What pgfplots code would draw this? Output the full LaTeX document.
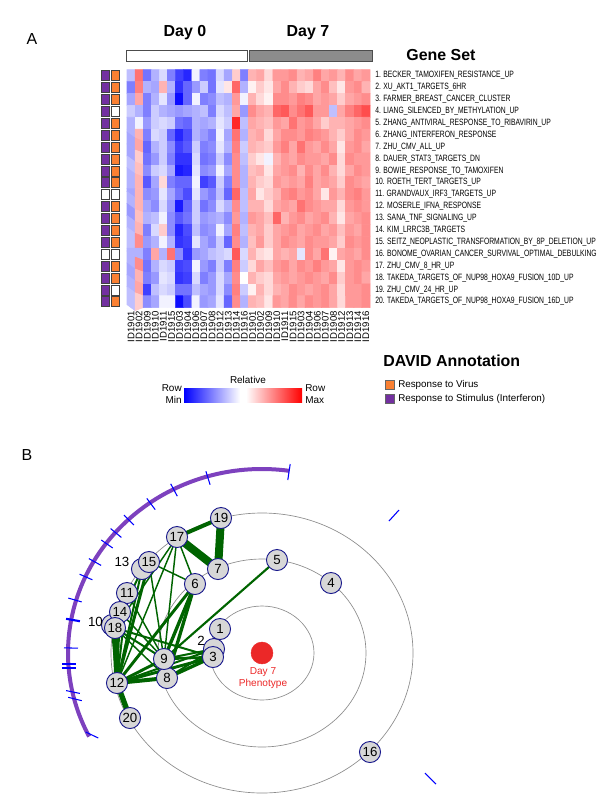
\documentclass[border=0pt]{standalone}
\usepackage{fontspec}
\setmainfont{Liberation Sans}
\newfontfamily\narrow[FakeStretch=0.74]{Liberation Sans}
\usepackage{pgfplots}
\pgfplotsset{compat=1.18}
\definecolor{purp}{RGB}{115,48,160}
\definecolor{orng}{RGB}{250,128,50}
\definecolor{arcpurp}{RGB}{125,65,190}
\definecolor{edge}{RGB}{0,100,0}
\definecolor{nodefill}{RGB}{215,215,215}
\definecolor{nodeline}{RGB}{25,25,140}
\definecolor{phen}{RGB}{235,40,40}
\newcommand\fs[1]{\fontsize{#1}{#1}\selectfont}
\begin{document}
\begin{tikzpicture}
\begin{axis}[
  x=0.75bp, y=0.75bp, y dir=reverse,
  xmin=0, xmax=600, ymin=0, ymax=796,
  hide axis, clip=false,
  colormap={bwr}{rgb255=(0,0,255) rgb255=(255,255,255) rgb255=(255,0,0)},
  point meta min=-1, point meta max=1,
]
\path (axis cs:0,0) coordinate (o) rectangle (axis cs:600,796);

% heatmap: 20 gene sets x 30 samples (Day 0 | Day 7), relative row values
\addplot[matrix plot*, mesh/cols=30, point meta=explicit]
  table[row sep=\\, x expr={131.05+8.1*mod(\coordindex,30)}, y expr={75.6+11.9*floor(\coordindex/30)}, meta=v] {
v\\
-0.25\\ 0.55\\ -0.55\\ -0.3\\ -0.15\\ -0.5\\ -0.75\\ -0.85\\ -0.05\\ -0.5\\ -0.55\\ -0.15\\ -0.35\\ 0.2\\ -0.5\\ 0.3\\ 0.35\\ 0.15\\ 0.4\\ 0.4\\ 0.45\\ 0.3\\ 0.35\\ 0.5\\ 0.35\\ 0.4\\ 0.3\\ 0.45\\ 0.35\\ 0.4\\
-0.5\\ 0.5\\ -0.3\\ -0.35\\ 0.3\\ -0.3\\ -0.8\\ -0.6\\ -0.4\\ -0.2\\ -0.55\\ -0.1\\ 0.1\\ 0.6\\ -0.3\\ 0.05\\ 0.2\\ 0.1\\ 0.35\\ 0.45\\ 0.3\\ 0.2\\ 0.15\\ 0.35\\ 0.45\\ 0.25\\ 0.1\\ 0.4\\ 0.45\\ 0.3\\
-0.35\\ 0.35\\ -0.5\\ -0.3\\ -0.1\\ -0.4\\ -0.95\\ -0.6\\ -0.05\\ -0.5\\ -0.45\\ -0.25\\ -0.3\\ 0.4\\ -0.05\\ 0.3\\ 0.15\\ 0.05\\ 0.45\\ 0.45\\ 0.4\\ 0.5\\ 0.45\\ 0.35\\ 0.4\\ 0.35\\ 0.2\\ 0.35\\ 0.4\\ 0.45\\
-0.2\\ -0.3\\ -0.5\\ -0.2\\ -0.3\\ -0.35\\ -0.4\\ -0.35\\ -0.3\\ -0.25\\ -0.5\\ -0.15\\ -0.25\\ 0.35\\ -0.4\\ 0.45\\ 0.35\\ 0.3\\ 0.6\\ 0.65\\ 0.45\\ 0.55\\ 0.65\\ 0.4\\ 0.4\\ -0.25\\ 0.35\\ 0.5\\ 0.6\\ 0.7\\
-0.3\\ -0.05\\ -0.4\\ -0.2\\ -0.15\\ -0.2\\ -0.55\\ -0.6\\ -0.3\\ -0.35\\ -0.3\\ -0.1\\ -0.2\\ 0.85\\ -0.25\\ 0.35\\ 0.3\\ 0.25\\ 0.4\\ 0.35\\ 0.55\\ 0.4\\ 0.45\\ 0.35\\ 0.2\\ 0.3\\ 0.3\\ 0.35\\ 0.4\\ 0.45\\
-0.3\\ 0.3\\ -0.5\\ -0.15\\ -0.2\\ -0.6\\ -0.85\\ -0.7\\ -0.3\\ -0.4\\ -0.5\\ -0.05\\ -0.35\\ 0.55\\ -0.3\\ 0.3\\ 0.35\\ 0.15\\ 0.35\\ 0.45\\ 0.45\\ 0.4\\ 0.5\\ 0.45\\ 0.4\\ 0.3\\ 0.2\\ 0.35\\ 0.45\\ 0.4\\
-0.35\\ 0.35\\ -0.6\\ -0.3\\ -0.2\\ -0.45\\ -0.75\\ -0.65\\ -0.2\\ -0.5\\ -0.45\\ -0.1\\ -0.3\\ 0.5\\ -0.2\\ 0.3\\ 0.25\\ 0.2\\ 0.4\\ 0.5\\ 0.35\\ 0.55\\ 0.4\\ 0.35\\ 0.45\\ 0.35\\ 0.1\\ 0.4\\ 0.45\\ 0.35\\
-0.35\\ 0.2\\ -0.55\\ -0.4\\ -0.2\\ -0.5\\ -0.8\\ -0.8\\ -0.15\\ -0.55\\ -0.5\\ -0.2\\ -0.45\\ 0.45\\ -0.25\\ 0.2\\ 0.1\\ -0.05\\ 0.3\\ 0.4\\ 0.35\\ 0.45\\ 0.4\\ 0.4\\ 0.35\\ 0.45\\ 0.15\\ 0.45\\ 0.4\\ 0.4\\
-0.25\\ 0.25\\ -0.45\\ -0.2\\ -0.15\\ -0.35\\ -0.9\\ -0.85\\ -0.1\\ -0.45\\ -0.4\\ -0.05\\ -0.35\\ 0.45\\ -0.3\\ 0.25\\ 0.3\\ 0.1\\ 0.35\\ 0.4\\ 0.45\\ 0.3\\ 0.45\\ 0.35\\ 0.45\\ 0.3\\ 0.15\\ 0.35\\ 0.45\\ 0.4\\
-0.3\\ 0.3\\ -0.65\\ -0.35\\ 0.15\\ -0.5\\ -0.6\\ -0.6\\ -0.05\\ -0.75\\ -0.65\\ -0.2\\ -0.5\\ 0.45\\ -0.3\\ 0.3\\ 0.2\\ 0.15\\ 0.4\\ 0.35\\ 0.4\\ 0.35\\ 0.5\\ 0.35\\ 0.4\\ 0.35\\ 0.2\\ 0.45\\ 0.4\\ 0.35\\
-0.35\\ 0.3\\ -0.45\\ -0.4\\ -0.1\\ -0.35\\ -0.55\\ -0.7\\ -0.1\\ -0.4\\ -0.5\\ -0.25\\ -0.6\\ 0.6\\ -0.25\\ 0.35\\ 0.1\\ 0.2\\ 0.3\\ 0.45\\ 0.5\\ 0.4\\ 0.45\\ 0.35\\ 0.1\\ 0.4\\ 0.3\\ 0.45\\ 0.5\\ 0.4\\
-0.3\\ 0.3\\ -0.35\\ -0.45\\ -0.15\\ -0.4\\ -0.9\\ -0.6\\ -0.2\\ -0.55\\ -0.45\\ -0.15\\ -0.3\\ 0.45\\ -0.25\\ 0.3\\ 0.3\\ 0.15\\ 0.35\\ 0.4\\ 0.35\\ 0.55\\ 0.45\\ 0.4\\ 0.35\\ 0.35\\ 0.15\\ 0.4\\ 0.45\\ 0.4\\
-0.4\\ 0.25\\ -0.3\\ -0.25\\ -0.05\\ -0.45\\ -0.65\\ -0.55\\ -0.2\\ -0.4\\ -0.35\\ -0.3\\ -0.45\\ 0.4\\ -0.3\\ 0.4\\ 0.35\\ 0.25\\ 0.6\\ 0.3\\ 0.4\\ 0.45\\ 0.35\\ 0.4\\ 0.45\\ 0.3\\ 0.1\\ 0.35\\ 0.4\\ 0.45\\
-0.3\\ 0.3\\ -0.5\\ -0.15\\ 0.2\\ -0.45\\ -0.85\\ -0.7\\ -0.25\\ -0.45\\ -0.4\\ -0.05\\ -0.35\\ 0.5\\ -0.25\\ 0.3\\ 0.35\\ 0.2\\ 0.35\\ 0.4\\ 0.45\\ 0.35\\ 0.4\\ 0.45\\ 0.35\\ 0.4\\ 0.25\\ 0.4\\ 0.35\\ 0.45\\
-0.25\\ 0.45\\ -0.4\\ -0.3\\ -0.05\\ -0.3\\ -0.8\\ -0.75\\ -0.1\\ -0.35\\ -0.45\\ -0.2\\ -0.6\\ 0.45\\ -0.3\\ 0.25\\ 0.4\\ 0.2\\ 0.35\\ 0.45\\ 0.4\\ 0.35\\ 0.45\\ 0.4\\ 0.4\\ 0.35\\ 0.2\\ 0.45\\ 0.4\\ 0.45\\
-0.3\\ -0.3\\ -0.5\\ 0.35\\ -0.3\\ 0.55\\ -0.45\\ -0.8\\ -0.4\\ -0.35\\ -0.25\\ -0.2\\ -0.15\\ 0.65\\ -0.15\\ 0.3\\ 0.15\\ 0.1\\ 0.35\\ 0.3\\ 0.35\\ -0.1\\ 0.45\\ 0.35\\ 0.55\\ 0.05\\ 0.35\\ 0.4\\ 0.35\\ 0.45\\
-0.3\\ 0.45\\ -0.55\\ -0.3\\ -0.15\\ -0.2\\ -0.75\\ -0.7\\ -0.05\\ -0.4\\ -0.5\\ -0.2\\ -0.5\\ 0.5\\ -0.2\\ 0.15\\ 0.35\\ 0.25\\ 0.4\\ 0.45\\ 0.35\\ 0.45\\ 0.4\\ 0.5\\ 0.4\\ 0.35\\ 0.1\\ 0.4\\ 0.45\\ 0.4\\
-0.35\\ 0.3\\ -0.5\\ -0.4\\ -0.1\\ -0.15\\ -0.8\\ -0.75\\ -0.15\\ -0.5\\ -0.4\\ -0.15\\ -0.35\\ 0.45\\ 0.0\\ 0.3\\ 0.2\\ 0.15\\ 0.35\\ 0.4\\ 0.35\\ 0.4\\ 0.45\\ 0.4\\ 0.35\\ 0.45\\ 0.2\\ 0.4\\ 0.45\\ 0.35\\
-0.3\\ 0.35\\ -0.75\\ -0.25\\ -0.15\\ -0.2\\ -0.55\\ -0.55\\ -0.25\\ -0.35\\ -0.4\\ -0.15\\ -0.45\\ 0.5\\ -0.2\\ 0.05\\ 0.3\\ 0.15\\ 0.3\\ 0.35\\ 0.45\\ 0.4\\ 0.35\\ 0.4\\ 0.45\\ 0.35\\ 0.15\\ 0.4\\ 0.4\\ 0.45\\
-0.25\\ 0.2\\ -0.45\\ -0.35\\ -0.05\\ -0.05\\ -0.95\\ -0.7\\ -0.05\\ -0.4\\ -0.35\\ -0.1\\ -0.6\\ 0.45\\ -0.3\\ 0.3\\ 0.25\\ 0.1\\ 0.4\\ 0.35\\ 0.45\\ 0.35\\ 0.45\\ 0.4\\ 0.45\\ 0.35\\ 0.15\\ 0.4\\ 0.4\\ 0.45\\
};

% DAVID annotation columns
\addplot[only marks, mark=square*, mark size=3.75bp, mark options={xscale=0.8, fill=purp, draw=black!75, line width=0.4bp}]
  coordinates {(105,75.6)(105,87.5)(105,99.4)(105,111.3)(105,123.2)(105,135.1)(105,147.0)(105,158.9)(105,170.8)(105,182.7)
  (105,206.5)(105,218.4)(105,230.3)(105,242.2)(105,266.0)(105,277.9)(105,289.8)(105,301.7)};
\addplot[only marks, mark=square*, mark size=3.75bp, mark options={xscale=0.8, fill=orng, draw=black!75, line width=0.4bp}]
  coordinates {(115.5,75.6)(115.5,87.5)(115.5,99.4)(115.5,123.2)(115.5,135.1)(115.5,147.0)(115.5,158.9)(115.5,170.8)(115.5,182.7)
  (115.5,206.5)(115.5,218.4)(115.5,230.3)(115.5,242.2)(115.5,266.0)(115.5,277.9)(115.5,301.7)};
\addplot[only marks, mark=square*, mark size=3.75bp, mark options={xscale=0.8, fill=white, draw=black!75, line width=0.4bp}]
  coordinates {(105,194.6)(105,254.1)(115.5,111.3)(115.5,194.6)(115.5,254.1)(115.5,289.8)};

% concentric rings round the Day 7 phenotype
\draw[black!45, line width=0.5bp] (axis cs:262,653) ellipse [x radius=39bp, y radius=35.25bp];
\draw[black!45, line width=0.5bp] (axis cs:262,653) ellipse [x radius=78bp, y radius=70.5bp];
\draw[black!45, line width=0.5bp] (axis cs:262,653) ellipse [x radius=113.25bp, y radius=105bp];
\draw[arcpurp, line width=3bp] (axis cs:289,470.8) arc[start angle=82, end angle=207, x radius=145.5bp, y radius=138bp];

% blue ticks on the arc
\addplot[blue, line width=0.8bp] coordinates {(287.8,480)(290.2,464)};
\addplot[blue, line width=0.8bp] coordinates {(205.9,471.3)(210.1,484.7)};
\addplot[blue, line width=0.8bp] coordinates {(170.7,483.8)(177.3,496.2)};
\addplot[blue, line width=0.8bp] coordinates {(146.8,498.4)(155.2,509.6)};
\addplot[blue, line width=0.8bp] coordinates {(124.1,515.1)(133.9,524.9)};
\addplot[blue, line width=0.8bp] coordinates {(110.6,528.6)(121.4,537.4)};
\addplot[blue, line width=0.8bp] coordinates {(101.3,540)(112.7,548)};
\addplot[blue, line width=0.8bp] coordinates {(88.9,558.6)(101.1,565.4)};
\addplot[blue, line width=0.8bp] coordinates {(79.6,574.2)(92.4,579.8)};
\addplot[blue, line width=0.8bp] coordinates {(68.3,598.1)(81.7,601.9)};
\addplot[blue, line width=1.6bp] coordinates {(66.1,618.8)(79.9,621.2)};
\addplot[blue, line width=0.8bp] coordinates {(64,647.8)(78,648.2)};
\addplot[blue, line width=0.8bp] coordinates {(62,664)(76,664)};
\addplot[blue, line width=0.8bp] coordinates {(62,668)(76,668)};
\addplot[blue, line width=0.8bp] coordinates {(66.1,690.6)(79.9,693.4)};
\addplot[blue, line width=0.8bp] coordinates {(68.2,697.3)(81.8,700.7)};
\addplot[blue, line width=0.8bp] coordinates {(85.7,732)(98.3,738)};
\addplot[blue, line width=0.8bp] coordinates {(389,521)(399,510)};
\addplot[blue, line width=0.8bp] coordinates {(425,773)(436,784)};

% edges between gene sets
\addplot[edge, line width=3bp] coordinates {(177,537)(221,518)};
\addplot[edge, line width=6bp] coordinates {(221,518)(218,569)};
\addplot[edge, line width=6bp] coordinates {(177,537)(218,569)};
\addplot[edge, line width=1.1bp] coordinates {(177,537)(195,584)};
\addplot[edge, line width=1.1bp] coordinates {(177,537)(164,659)};
\addplot[edge, line width=1.1bp] coordinates {(177,537)(117,683)};
\addplot[edge, line width=1.1bp] coordinates {(177,537)(115,628)};
\addplot[edge, line width=1.1bp] coordinates {(149,562)(195,584)};
\addplot[edge, line width=2.2bp] coordinates {(149,562)(117,683)};
\addplot[edge, line width=1.1bp] coordinates {(149,562)(164,659)};
\addplot[edge, line width=1.5bp] coordinates {(142,569)(117,683)};
\addplot[edge, line width=1.5bp] coordinates {(142,569)(115,628)};
\addplot[edge, line width=2.5bp] coordinates {(195,584)(164,659)};
\addplot[edge, line width=2.5bp] coordinates {(195,584)(167,678)};
\addplot[edge, line width=2.2bp] coordinates {(195,584)(117,683)};
\addplot[edge, line width=1.6bp] coordinates {(277,560)(164,659)};
\addplot[edge, line width=2bp] coordinates {(164,659)(213,657)};
\addplot[edge, line width=1.5bp] coordinates {(164,659)(214,649)};
\addplot[edge, line width=2.5bp] coordinates {(167,678)(213,657)};
\addplot[edge, line width=1.5bp] coordinates {(167,678)(214,649)};
\addplot[edge, line width=2.2bp] coordinates {(117,683)(213,657)};
\addplot[edge, line width=1.5bp] coordinates {(117,683)(214,649)};
\addplot[edge, line width=3bp] coordinates {(117,683)(167,678)};
\addplot[edge, line width=2.2bp] coordinates {(117,683)(164,659)};
\addplot[edge, line width=4bp] coordinates {(117,683)(115,628)};
\addplot[edge, line width=4bp] coordinates {(117,683)(130,718)};
\addplot[edge, line width=1.5bp] coordinates {(117,683)(120,612)};
\addplot[edge, line width=1.5bp] coordinates {(117,683)(127,593)};
\addplot[edge, line width=1.5bp] coordinates {(115,628)(164,659)};
\addplot[edge, line width=1.5bp] coordinates {(115,628)(213,657)};
\addplot[edge, line width=1.1bp] coordinates {(120,612)(164,659)};
\addplot[edge, line width=1.1bp] coordinates {(127,593)(164,659)};
\addplot[edge, line width=1.1bp] coordinates {(115,628)(167,678)};
\addplot[edge, line width=2bp] coordinates {(112,625)(117,683)};

% gene set nodes (2, 10, 13 lie behind 3, 18, 15)
\addplot[only marks, mark=*, mark size=7.9bp, mark options={fill=nodefill, draw=nodeline, line width=0.7bp}]
  coordinates {(214,649)(112,625)(142,569)};
\addplot[only marks, mark=*, mark size=7.9bp, mark options={fill=nodefill, draw=nodeline, line width=0.7bp}]
  coordinates {(220,629)(213,657)(331,583)(277,560)(195,584)(218,569)(167,678)(164,659)
  (127,593)(117,683)(120,612)(149,562)(370,752)(177,537)(115,628)(221,518)(130,718)};
% Day 7 phenotype
\addplot[only marks, mark=*, mark size=8.2bp, mark options={fill=phen, draw=phen}] coordinates {(262,653)};
\end{axis}

\begin{scope}[shift={(o)}, x=0.75bp, y=-0.75bp]
\node[font=\fs{12}] at (32,39) {A};
\node[font=\fs{12}] at (27,455) {B};
\node[font=\bfseries\fs{12}] at (185,33) {Day 0};
\node[font=\bfseries\fs{12}] at (308,33) {Day 7};
\node[font=\bfseries\fs{12}] at (441,55) {Gene Set};
\node[font=\bfseries\fs{12}, anchor=west, inner sep=0] at (383,361) {DAVID Annotation};
\draw[fill=white, draw=black!70, line width=0.6bp] (126.7,50.7) rectangle (247.3,61.7);
\draw[fill=black!45, draw=black!70, line width=0.6bp] (249,50.7) rectangle (372,61.7);

\foreach \i/\t in {1/BECKER\_TAMOXIFEN\_RESISTANCE\_UP, 2/XU\_AKT1\_TARGETS\_6HR,
  3/FARMER\_BREAST\_CANCER\_CLUSTER, 4/LIANG\_SILENCED\_BY\_METHYLATION\_UP,
  5/ZHANG\_ANTIVIRAL\_RESPONSE\_TO\_RIBAVIRIN\_UP, 6/ZHANG\_INTERFERON\_RESPONSE,
  7/ZHU\_CMV\_ALL\_UP, 8/DAUER\_STAT3\_TARGETS\_DN, 9/BOWIE\_RESPONSE\_TO\_TAMOXIFEN,
  10/ROETH\_TERT\_TARGETS\_UP, 11/GRANDVAUX\_IRF3\_TARGETS\_UP, 12/MOSERLE\_IFNA\_RESPONSE,
  13/SANA\_TNF\_SIGNALING\_UP, 14/KIM\_LRRC3B\_TARGETS,
  15/SEITZ\_NEOPLASTIC\_TRANSFORMATION\_BY\_8P\_DELETION\_UP,
  16/BONOME\_OVARIAN\_CANCER\_SURVIVAL\_OPTIMAL\_DEBULKING, 17/ZHU\_CMV\_8\_HR\_UP,
  18/TAKEDA\_TARGETS\_OF\_NUP98\_HOXA9\_FUSION\_10D\_UP, 19/ZHU\_CMV\_24\_HR\_UP,
  20/TAKEDA\_TARGETS\_OF\_NUP98\_HOXA9\_FUSION\_16D\_UP}
  \node[anchor=west, inner sep=0, font=\narrow\fs{6.9}] at (375,{75.6+11.9*(\i-1)}) {\i. \t};

\foreach \j/\t in {0/1901,1/1902,2/1909,3/1910,4/1911,5/1915,6/1903,7/1904,8/1906,9/1907,10/1908,11/1912,12/1913,13/1914,14/1916,
  15/1901,16/1902,17/1909,18/1910,19/1911,20/1915,21/1903,22/1904,23/1906,24/1907,25/1908,26/1912,27/1913,28/1914,29/1916}
  \node[rotate=90, anchor=east, inner sep=0, font=\fs{7.2}] at ({131.05+8.1*\j},311) {ID\t};

% colour key
\shade[left color=blue, right color=white] (184,389) rectangle (240,403);
\fill[white] (240,389) rectangle (246,403);
\shade[left color=white, right color=red] (246,389) rectangle (302,403);
\node[font=\fs{7.5}] at (248,380) {Relative};
\node[font=\fs{7.5}, anchor=east, inner sep=0] at (182,388) {Row};
\node[font=\fs{7.5}, anchor=east, inner sep=0] at (182,400) {Min};
\node[font=\fs{7.5}, anchor=west, inner sep=0] at (305,388) {Row};
\node[font=\fs{7.5}, anchor=west, inner sep=0] at (305,400) {Max};

% DAVID legend
\draw[fill=orng, draw=black!60, line width=0.4bp] (385,380) rectangle (394,389);
\draw[fill=purp, draw=black!60, line width=0.4bp] (385,394) rectangle (394,403);
\node[font=\fs{7.4}, anchor=west, inner sep=0] at (398,385) {Response to Virus};
\node[font=\fs{7.4}, anchor=west, inner sep=0] at (398,399) {Response to Stimulus (Interferon)};

% node numbers
\foreach \x/\y/\n in {220/629/1, 213/657/3, 331/583/4, 277/560/5, 195/584/6, 218/569/7, 167/678/8, 164/659/9,
  127/593/11, 117/683/12, 120/612/14, 149/562/15, 370/752/16, 177/537/17, 115/628/18, 221/518/19, 130/718/20}
  \node[font=\fs{10}, inner sep=0] at (\x,\y) {\n};
\node[font=\fs{10}, inner sep=0] at (201,641) {2};
\node[font=\fs{10}, inner sep=0] at (95.5,622) {10};
\node[font=\fs{10}, inner sep=0] at (122,562) {13};
\node[font=\fs{7.6}, text=phen, inner sep=0] at (263,672) {Day 7};
\node[font=\fs{7.6}, text=phen, inner sep=0] at (263,684) {Phenotype};
\end{scope}
\end{tikzpicture}
\end{document}
